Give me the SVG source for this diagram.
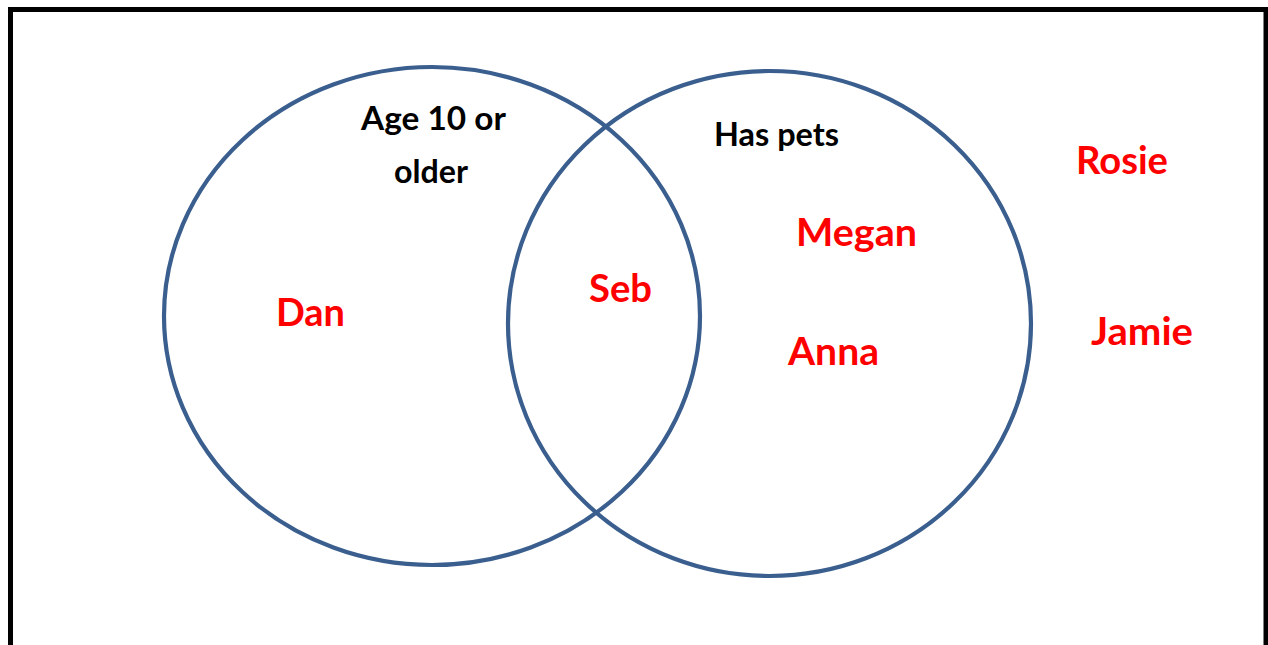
<svg xmlns="http://www.w3.org/2000/svg" width="1268" height="645" viewBox="0 0 1268 645">
<style>
.set{fill:none;stroke:#3A5F8F;stroke-width:4.2}
.lbl{font-family:Lato,"Liberation Sans",sans-serif;font-weight:bold;font-size:33px;fill:#000}
.nm{font-family:Lato,"Liberation Sans",sans-serif;font-weight:bold;font-size:39px;fill:#FF0000}
</style>
<rect x="0" y="0" width="1268" height="645" fill="#fff"/>
<rect x="10.5" y="9.5" width="1255.5" height="660" fill="none" stroke="#000" stroke-width="5"/>
<g id="set-age">
<ellipse class="set" cx="432" cy="316" rx="268" ry="249"/>
<text class="lbl" x="361" y="130" textLength="145" lengthAdjust="spacingAndGlyphs">Age 10 or</text>
<text class="lbl" x="394" y="183" textLength="74" lengthAdjust="spacingAndGlyphs">older</text>
</g>
<g id="set-pets">
<ellipse class="set" cx="769.5" cy="323.5" rx="261.5" ry="252.5"/>
<text class="lbl" x="714" y="146" textLength="125" lengthAdjust="spacingAndGlyphs">Has pets</text>
</g>
<g id="names">
<text class="nm" x="276" y="326" textLength="69" lengthAdjust="spacingAndGlyphs">Dan</text>
<text class="nm" x="589" y="302" textLength="63" lengthAdjust="spacingAndGlyphs">Seb</text>
<text class="nm" x="796" y="246" textLength="121" lengthAdjust="spacingAndGlyphs">Megan</text>
<text class="nm" x="788" y="365" textLength="91" lengthAdjust="spacingAndGlyphs">Anna</text>
<text class="nm" x="1076" y="174" textLength="92" lengthAdjust="spacingAndGlyphs">Rosie</text>
<text class="nm" x="1091" y="345" textLength="102" lengthAdjust="spacingAndGlyphs">Jamie</text>
</g>
</svg>
